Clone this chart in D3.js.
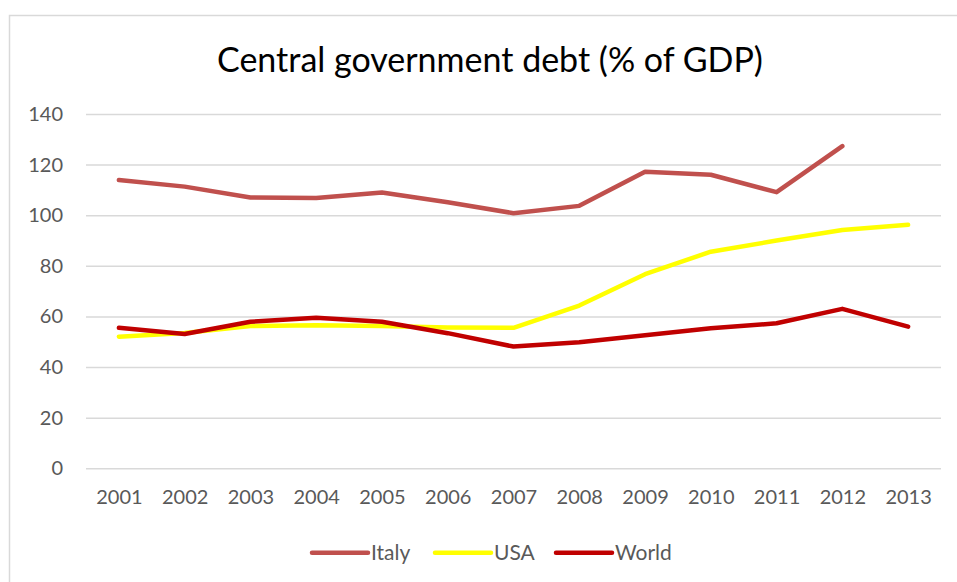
<!DOCTYPE html>
<html>
<head>
<meta charset="utf-8">
<script src="https://cdn.jsdelivr.net/npm/d3@7"></script>
<style>
  html, body { margin: 0; padding: 0; background: #fff; }
  svg { display: block; font-family: Lato, "Open Sans", sans-serif; }
</style>
</head>
<body>
<svg id="chart" width="957" height="582"></svg>
<script>
// Central government debt, % of GDP
const years = ["2001","2002","2003","2004","2005","2006","2007","2008","2009","2010","2011","2012","2013"];
const italy = [113.9, 111.3, 107.0, 106.8, 109.0, 105.1, 100.8, 103.7, 117.2, 116.0, 109.1, 127.3, null];
const usa   = [52.0, 53.5, 56.2, 56.5, 56.2, 55.6, 55.5, 64.3, 76.7, 85.6, 90.0, 94.2, 96.2];
const world = [55.5, 53.1, 57.9, 59.5, 57.9, 53.4, 48.1, 49.8, 52.6, 55.3, 57.3, 63.0, 56.0];
const yTicks = [0, 20, 40, 60, 80, 100, 120, 140];

const seriesList = [
  { name: "Italy", values: italy, color: "#C0504D" },
  { name: "USA",   values: usa,   color: "#FFFF00" },
  { name: "World", values: world, color: "#C00000" }
];

const svg = d3.select("#chart");
const W = 957, H = 582;
const plot = { left: 86, right: 941, top: 114, bottom: 468.3 };

// chart frame
svg.append("rect")
  .attr("x", 9.5).attr("y", 15.5)
  .attr("width", W).attr("height", H)
  .attr("fill", "#fff").attr("stroke", "#d9d9d9").attr("stroke-width", 1.5);

const x = d3.scalePoint().domain(years).range([plot.left, plot.right]).padding(0.5);
const y = d3.scaleLinear().domain([0, 140]).range([plot.bottom, plot.top]);

// title
svg.append("text")
  .attr("x", 490).attr("y", 72)
  .attr("text-anchor", "middle")
  .attr("font-size", 34)
  .attr("fill", "#000")
  .text("Central government debt (% of GDP)");

// horizontal gridlines + y labels
const yAxis = d3.axisLeft(y).tickValues(yTicks).tickSize(-(plot.right - plot.left)).tickPadding(23);
const gy = svg.append("g").attr("transform", `translate(${plot.left},0)`).call(yAxis);
gy.select(".domain").remove();
gy.selectAll(".tick line").attr("stroke", "#d9d9d9").attr("stroke-width", 1.5);
gy.selectAll(".tick text")
  .attr("font-size", 20).attr("fill", "#595959")
  .attr("font-family", "Lato, 'Open Sans', sans-serif");

// x labels
const xAxis = d3.axisBottom(x).tickSize(0).tickPadding(22);
const gx = svg.append("g").attr("transform", `translate(0,${plot.bottom})`).call(xAxis);
gx.select(".domain").remove();
gx.selectAll(".tick text")
  .attr("font-size", 20).attr("fill", "#595959")
  .attr("font-family", "Lato, 'Open Sans', sans-serif");

// series lines
const line = d3.line()
  .defined(d => d.v != null)
  .x(d => x(d.year))
  .y(d => y(d.v));

seriesList.forEach(s => {
  const pts = years.map((yr, i) => ({ year: yr, v: s.values[i] }));
  svg.append("path")
    .datum(pts)
    .attr("d", line)
    .attr("fill", "none")
    .attr("stroke", s.color)
    .attr("stroke-width", 4.5)
    .attr("stroke-linecap", "round")
    .attr("stroke-linejoin", "round");
});

// legend
const legendX = [312, 435, 556];
const lg = svg.append("g");
seriesList.forEach((s, i) => {
  const g = lg.append("g").attr("transform", `translate(${legendX[i]},552.7)`);
  g.append("line")
    .attr("x1", 0).attr("x2", 56).attr("y1", 0).attr("y2", 0)
    .attr("stroke", s.color).attr("stroke-width", 4.5).attr("stroke-linecap", "round");
  g.append("text")
    .attr("x", 59).attr("y", 7.5)
    .attr("font-size", 21).attr("fill", "#595959")
    .text(s.name);
});
</script>
</body>
</html>
